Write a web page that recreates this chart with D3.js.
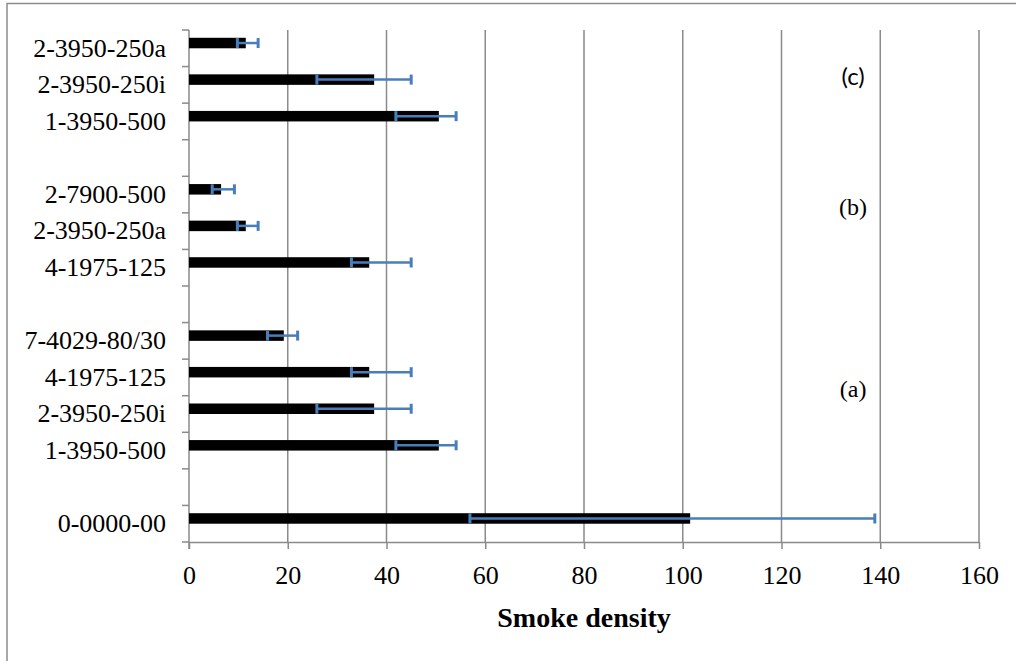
<!DOCTYPE html>
<html lang="en">
<head>
<meta charset="utf-8">
<title>Smoke density</title>
<script src="https://d3js.org/d3.v7.min.js"></script>
<style>
  body { margin: 0; background: #fff; }
  svg { display: block; }
  .lbl { font-family: "Liberation Serif", "Times New Roman", serif; font-size: 26px; fill: #000; }
</style>
</head>
<body>
<script>
// rows top to bottom, blank label = empty gap row
var labels = ["2-3950-250a", "2-3950-250i", "1-3950-500", "",
              "2-7900-500", "2-3950-250a", "4-1975-125", "",
              "7-4029-80/30", "4-1975-125", "2-3950-250i", "1-3950-500", "",
              "0-0000-00"];
var values  = [11.5, 37.5, 50.6, null, 6.5, 11.5, 36.5, null, 19.2, 36.5, 37.5, 50.6, null, 101.5];
var errLow  = [9.8, 25.9, 41.9, null, 4.7, 9.8, 32.9, null, 15.9, 32.9, 25.9, 41.9, null, 56.9];
var errHigh = [14.0, 45.0, 54.1, null, 9.2, 14.0, 45.0, null, 22.0, 45.0, 45.0, 54.1, null, 138.9];
var xTicks = [0, 20, 40, 60, 80, 100, 120, 140, 160];
var groups = ["(c)", "(b)", "(a)"];
var groupY = [77, 207, 389];   // pixel centres of the group notes

var width = 1016, height = 661;
var plotL = 189, plotR = 979, plotT = 30, plotB = 542;
var grid = "#8a8a8a", errColor = "#4a7ebb";

var svg = d3.select("body").append("svg")
    .attr("width", width)
    .attr("height", height);

// chart frame
svg.append("rect")
    .attr("x", 7).attr("y", 3.5)
    .attr("width", 1100).attr("height", 700)
    .attr("fill", "none").attr("stroke", "#8c8c8c").attr("stroke-width", 1.5);

var rows = labels.map(function(l, i) {
    return { key: "r" + i, label: l, v: values[i], lo: errLow[i], hi: errHigh[i] };
});

var x = d3.scaleLinear().domain([0, 160]).range([plotL, plotR]);
var y = d3.scaleBand().domain(rows.map(function(d) { return d.key; })).range([plotT, plotB]);
var bw = y.bandwidth();

// vertical gridlines + x axis
var xAxis = svg.append("g")
    .attr("transform", "translate(0," + plotB + ")")
    .call(d3.axisBottom(x).tickValues(xTicks).tickSize(7).tickPadding(10).tickSizeOuter(0));
xAxis.select(".domain").attr("stroke", grid).attr("stroke-width", 1.5);
xAxis.selectAll(".tick line").attr("stroke", grid).attr("stroke-width", 1.5);
xAxis.selectAll(".tick text").attr("class", "lbl").attr("dy", "0.95em");

svg.append("g").selectAll("line")
    .data(xTicks.slice(1))
    .join("line")
    .attr("x1", function(d) { return x(d); })
    .attr("x2", function(d) { return x(d); })
    .attr("y1", plotT).attr("y2", plotB)
    .attr("stroke", grid).attr("stroke-width", 1.5);

// y axis with ticks between categories
svg.append("line")
    .attr("x1", plotL).attr("x2", plotL).attr("y1", plotT).attr("y2", plotB + 7)
    .attr("stroke", grid).attr("stroke-width", 1.5);
var edges = rows.map(function(d) { return y(d.key); }).concat([plotB]);
svg.append("g").selectAll("line")
    .data(edges)
    .join("line")
    .attr("x1", plotL - 7).attr("x2", plotL)
    .attr("y1", function(d) { return d; }).attr("y2", function(d) { return d; })
    .attr("stroke", grid).attr("stroke-width", 1.5);

svg.append("g").selectAll("text")
    .data(rows.filter(function(d) { return d.label; }))
    .join("text")
    .attr("class", "lbl")
    .attr("x", 166)
    .attr("y", function(d) { return y(d.key) + bw / 2; })
    .attr("dy", "0.32em")
    .attr("text-anchor", "end")
    .text(function(d) { return d.label; });

// bars
var data = rows.filter(function(d) { return d.v != null; });
var barH = 10.5;
svg.append("g").selectAll("rect")
    .data(data)
    .join("rect")
    .attr("x", x(0))
    .attr("y", function(d) { return y(d.key) + bw / 2 - barH; })
    .attr("width", function(d) { return x(d.v) - x(0); })
    .attr("height", barH)
    .attr("fill", "#000");

// error bars
var eb = svg.append("g").attr("stroke", errColor).attr("stroke-width", 2.5).attr("fill", "none");
eb.selectAll("line.bar")
    .data(data)
    .join("line")
    .attr("class", "bar")
    .attr("x1", function(d) { return x(d.lo); })
    .attr("x2", function(d) { return x(d.hi); })
    .attr("y1", function(d) { return y(d.key) + bw / 2 - barH / 2; })
    .attr("y2", function(d) { return y(d.key) + bw / 2 - barH / 2; });
["lo", "hi"].forEach(function(k) {
    eb.selectAll("line.cap-" + k)
        .data(data)
        .join("line")
        .attr("class", "cap-" + k)
        .attr("stroke-width", 3)
        .attr("x1", function(d) { return x(d[k]); })
        .attr("x2", function(d) { return x(d[k]); })
        .attr("y1", function(d) { return y(d.key) + bw / 2 - barH / 2 - 5; })
        .attr("y2", function(d) { return y(d.key) + bw / 2 - barH / 2 + 5; });
});

// group notes
svg.append("g").selectAll("text")
    .data(groups)
    .join("text")
    .attr("x", x(134.5))
    .attr("y", function(d, i) { return groupY[i]; })
    .attr("dy", "0.35em")
    .attr("text-anchor", "middle")
    .attr("font-size", "24px")
    .attr("font-family", function(d, i) { return i === 0 ? "Lato, 'Open Sans', sans-serif" : "'Liberation Serif', serif"; })
    .text(function(d) { return d; });

// axis title
svg.append("text")
    .attr("x", (plotL + plotR) / 2)
    .attr("y", 627)
    .attr("text-anchor", "middle")
    .attr("font-family", "'Liberation Serif', 'Times New Roman', serif")
    .attr("font-weight", "bold")
    .attr("font-size", "28px")
    .text("Smoke density");
</script>
</body>
</html>
